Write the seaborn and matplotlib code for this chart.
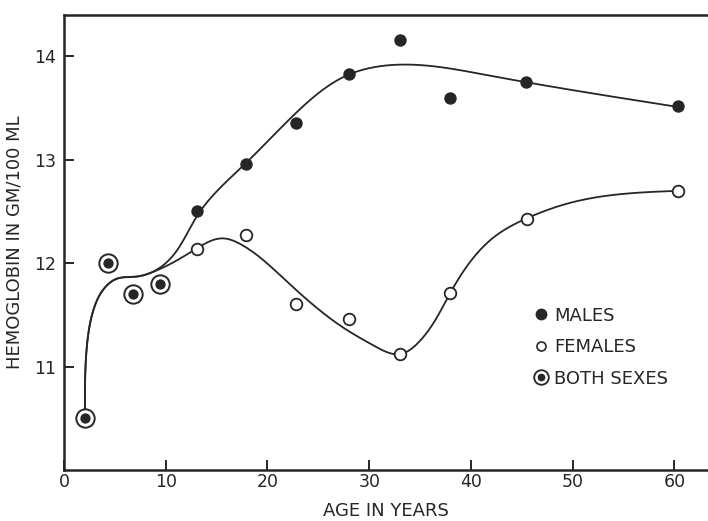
import numpy as np
import pandas as pd
import matplotlib
matplotlib.use("Agg")
import matplotlib.pyplot as plt
from matplotlib.lines import Line2D
from matplotlib.legend_handler import HandlerTuple
import seaborn as sns

# ---- data ----
both_age = [2.06, 4.3, 6.8, 9.4]
both_hb = [10.50, 12.00, 11.70, 11.80]

male_age = [13.1, 17.9, 22.8, 28.0, 33.0, 37.9, 45.4, 60.4]
male_hb = [12.50, 12.96, 13.36, 13.83, 14.16, 13.60, 13.75, 13.52]

female_age = [13.1, 17.9, 22.8, 28.0, 33.0, 37.9, 45.5, 60.4]
female_hb = [12.14, 12.27, 11.61, 11.46, 11.12, 11.71, 12.43, 12.70]

# hand-drawn fitted curves (knots)
common_curve_x = [2.06, 2.25, 2.9, 3.9, 5.2, 7.1, 8.6]
common_curve_y = [10.55, 11.20, 11.55, 11.75, 11.85, 11.87, 11.91]
male_curve_x = [10.6, 13.1, 17.9, 23.2, 27.9, 33.0, 41.5, 60.4]
male_curve_y = [12.06, 12.46, 12.97, 13.49, 13.82, 13.92, 13.82, 13.51]
female_curve_x = [10.6, 13.0, 15.6, 17.6, 21.5, 27.4, 30.5, 33.0, 35.0, 37.9,
                  42.5, 45.4, 50.0, 60.4]
female_curve_y = [12.00, 12.14, 12.24, 12.17, 11.86, 11.38, 11.20, 11.12, 11.25, 11.70,
                  12.27, 12.43, 12.59, 12.70]

x_ticks = [0, 10, 20, 30, 40, 50, 60]
y_ticks = [11, 12, 13, 14]
legend_labels = ["MALES", "FEMALES", "BOTH SEXES"]


def _natural_coeffs(t, v):
    n = len(t)
    h = np.diff(t)
    A = np.zeros((n, n))
    b = np.zeros(n)
    A[0, 0] = A[-1, -1] = 1.0
    for i in range(1, n - 1):
        A[i, i - 1] = h[i - 1]
        A[i, i] = 2 * (h[i - 1] + h[i])
        A[i, i + 1] = h[i]
        b[i] = 6 * ((v[i + 1] - v[i]) / h[i] - (v[i] - v[i - 1]) / h[i - 1])
    return np.linalg.solve(A, b)


def _natural_eval(t, v, M, tt):
    idx = np.clip(np.searchsorted(t, tt) - 1, 0, len(t) - 2)
    t0, t1 = t[idx], t[idx + 1]
    h = t1 - t0
    a = (t1 - tt) / h
    c = (tt - t0) / h
    return (a * v[idx] + c * v[idx + 1]
            + ((a ** 3 - a) * M[idx] + (c ** 3 - c) * M[idx + 1]) * h ** 2 / 6)


def smooth_curve(xs, ys, n=800):
    """Parametric natural cubic spline through knots (chord length in pixel space)."""
    S = np.array([10.18, 103.3])
    P = np.column_stack([xs, ys]).astype(float) * S
    d = np.sqrt(np.sum(np.diff(P, axis=0) ** 2, axis=1))
    t = np.concatenate([[0], np.cumsum(d)])
    tt = np.linspace(0, t[-1], n)
    out = []
    for k in range(2):
        M = _natural_coeffs(t, P[:, k])
        out.append(_natural_eval(t, P[:, k], M, tt) / S[k])
    return out[0], out[1]


sns.set_theme(style="ticks")
plt.rcParams["font.family"] = ["DejaVu Sans"]

fig = plt.figure(figsize=(7.08, 5.21), dpi=100)
ax = fig.add_axes([64 / 708, 51 / 521, 644 / 708, 455 / 521])
ax.set_facecolor("white")
fig.patch.set_facecolor("white")

ink = "#262626"

mx, my = smooth_curve(common_curve_x + male_curve_x, common_curve_y + male_curve_y)
fx, fy = smooth_curve(common_curve_x + female_curve_x, common_curve_y + female_curve_y)
curves = pd.concat([
    pd.DataFrame({"x": mx, "y": my, "s": "m"}),
    pd.DataFrame({"x": fx, "y": fy, "s": "f"}),
])
for key in ["m", "f"]:
    sns.lineplot(data=curves[curves.s == key], x="x", y="y", sort=False,
                 color=ink, lw=1.3, ax=ax, estimator=None, legend=False)

# both sexes: ring + dot
sns.scatterplot(x=both_age, y=both_hb, s=175, facecolor="white", edgecolor=ink,
                linewidth=1.4, ax=ax, zorder=3, legend=False)
sns.scatterplot(x=both_age, y=both_hb, s=55, color=ink, edgecolor=ink,
                linewidth=0, ax=ax, zorder=4, legend=False)
# males
sns.scatterplot(x=male_age, y=male_hb, s=80, color=ink, edgecolor=ink,
                linewidth=0, ax=ax, zorder=4, legend=False)
# females
sns.scatterplot(x=female_age, y=female_hb, s=70, facecolor="white", edgecolor=ink,
                linewidth=1.3, ax=ax, zorder=4, legend=False)

ax.set_xlim(0, 63.3)
ax.set_ylim(10.0, 14.4)
ax.set_xticks(x_ticks)
ax.set_yticks(y_ticks)
ax.tick_params(direction="in", length=7, width=1.4, color=ink, labelsize=12.5,
               labelcolor=ink)
ax.tick_params(axis="x", pad=2)
ax.tick_params(axis="y", pad=6)
for side in ["left", "bottom", "top"]:
    ax.spines[side].set_linewidth(1.8)
    ax.spines[side].set_color(ink)
ax.spines["right"].set_visible(False)

ax.set_xlabel("AGE IN YEARS", fontsize=13, color=ink, labelpad=8)
ax.set_ylabel("HEMOGLOBIN IN GM/100 ML", fontsize=13, color=ink, labelpad=7)

h_m = Line2D([], [], ls="", marker="o", ms=7.5, mfc=ink, mec=ink)
h_f = Line2D([], [], ls="", marker="o", ms=6.5, mfc="white", mec=ink, mew=1.2)
h_b1 = Line2D([], [], ls="", marker="o", ms=10.5, mfc="white", mec=ink, mew=1.3)
h_b2 = Line2D([], [], ls="", marker="o", ms=5.5, mfc=ink, mec=ink, mew=0)
leg = ax.legend([h_m, h_f, (h_b1, h_b2)], legend_labels, loc="center left",
                bbox_to_anchor=(0.704, 0.27), frameon=False, fontsize=13,
                handlelength=0.8, handletextpad=0.35, labelspacing=0.75,
                handler_map={tuple: HandlerTuple(ndivide=1)})
for t in leg.get_texts():
    t.set_color(ink)

fig.savefig("out.png", dpi=100)
